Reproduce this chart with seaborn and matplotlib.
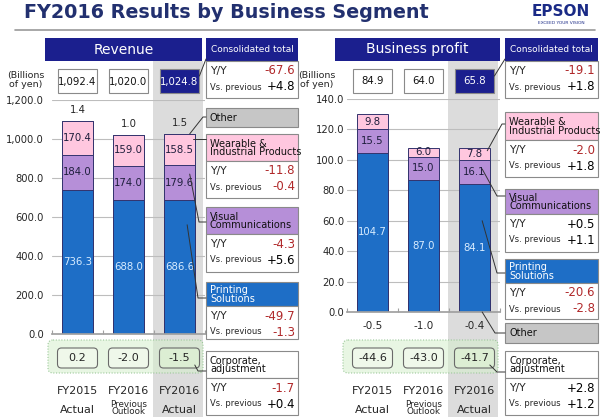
# FY2016 セグメント別業績（売上収益・事業利益）のインフォグラフィック再現

import matplotlib
matplotlib.use("Agg")
import matplotlib.pyplot as plt
from matplotlib import transforms
from matplotlib.patches import Rectangle, FancyBboxPatch
from matplotlib.lines import Line2D
import numpy as np
import seaborn as sns


# ======================== データ ========================
periods = ["FY2015 Actual", "FY2016 Previous Outlook", "FY2016 Actual"]
period_top = ["FY2015", "FY2016", "FY2016"]
period_bottom = ["Actual", "Previous\nOutlook", "Actual"]

rev_printing = [736.3, 688.0, 686.6]
rev_visual = [184.0, 174.0, 179.6]
rev_wearable = [170.4, 159.0, 158.5]
rev_other = [1.4, 1.0, 1.5]
rev_corporate = [0.2, -2.0, -1.5]
rev_total = [1092.4, 1020.0, 1024.8]
rev_yticks = [0, 200, 400, 600, 800, 1000, 1200]

prof_printing = [104.7, 87.0, 84.1]
prof_visual = [15.5, 15.0, 16.1]
prof_wearable = [9.8, 6.0, 7.8]
prof_other = [-0.5, -1.0, -0.4]
prof_corporate = [-44.6, -43.0, -41.7]
prof_total = [84.9, 64.0, 65.8]
prof_yticks = [0, 20, 40, 60, 80, 100, 120, 140]

# (Y/Y, Vs. previous)
rev_chg_total = (-67.6, 4.8)
rev_chg_wearable = (-11.8, -0.4)
rev_chg_visual = (-4.3, 5.6)
rev_chg_printing = (-49.7, -1.3)
rev_chg_corporate = (-1.7, 0.4)

prof_chg_total = (-19.1, 1.8)
prof_chg_wearable = (-2.0, 1.8)
prof_chg_visual = (0.5, 1.1)
prof_chg_printing = (-20.6, -2.8)
prof_chg_corporate = (2.8, 1.2)


# ======================== 描画設定 ========================
W, H = 600, 417
NAVY = "#1B1F8E"
TITLE = "#22306F"
BLUE = "#1E6EC6"
PURPLE = "#B68FD8"
PINK = "#FFC7DF"
GRAYBOX = "#C6C6C6"
SHADE = "#DCDCDC"
RED = "#B0282A"
EDGE = "#33336E"
BORDER = "#8A8A8A"
BAR_W = 0.59

sns.set_theme(style="white")
plt.rcParams["font.family"] = ["DejaVu Sans"]

fig = plt.figure(figsize=(6, 4.17), dpi=100)
TL = transforms.Affine2D().scale(1, -1).translate(0, H)  # 左上原点のピクセル座標


def rect(x0, y0, x1, y1, fc, ec="none", lw=0.8, z=1):
    fig.patches.append(
        Rectangle((x0, y0), x1 - x0, y1 - y0, transform=TL, fc=fc, ec=ec, lw=lw, zorder=z)
    )


def txt(x, y, s, **kw):
    kw.setdefault("va", "center")
    kw.setdefault("zorder", 5)
    fig.text(x, y, s, transform=TL, **kw)


def fmt(v):
    return f"{v:+.1f}"


def px(ax, x, y=0):
    d = ax.transData.transform((x, y))
    return d[0], H - d[1]


def connector(points):
    xs, ys = zip(*points)
    fig.lines.append(Line2D(xs, ys, transform=TL, color="#333333", lw=0.7, zorder=6))


# ======================== レイアウト ========================
txt(24, 12, "FY2016 Results by Business Segment", fontsize=13.8, fontweight="bold", color=TITLE)
txt(561, 11, "EPSON", fontsize=11, fontweight="bold", color="#1A2A86", ha="center")
txt(561, 23, "EXCEED YOUR VISION", fontsize=3.2, color="#1A2A86", ha="center")
fig.lines.append(Line2D([15, 595], [29.5, 29.5], transform=TL, color="#9A9A9A", lw=1.2))


def change_box(x0, x1, y0, y1, chg):
    rect(x0, y0, x1, y1, "white", BORDER, z=2)
    yy, vp = chg
    txt(x0 + 4, y0 + 10, "Y/Y", fontsize=7.8)
    txt(x1 - 3, y0 + 10, fmt(yy), fontsize=8.5, ha="right", color=RED if yy < 0 else "black")
    txt(x0 + 4, y0 + 26, "Vs. previous", fontsize=6)
    txt(x1 - 3, y0 + 26, fmt(vp), fontsize=8.5, ha="right", color=RED if vp < 0 else "black")


def header_box(x0, x1, y0, y1, label, fc, tc="#111111"):
    rect(x0, y0, x1, y1, fc, BORDER, z=2)
    txt(x0 + 4, (y0 + y1) / 2 + 0.5, label, fontsize=7, color=tc, linespacing=0.85)


def setup_axis(ax, ymax, yticks, label_fmt, pad):
    ax.set_facecolor("none")
    ax.set_xlim(-0.5, 2.5)
    ax.set_ylim(0, ymax)
    ax.set_yticks(yticks)
    ax.set_yticklabels([label_fmt(t) for t in yticks], fontsize=7.2)
    ax.tick_params(axis="y", length=0, pad=pad)
    ax.set_xticks([-0.5, 0.5, 1.5, 2.5], minor=True)
    ax.tick_params(axis="x", which="major", length=0, labelbottom=False)
    ax.tick_params(axis="x", which="minor", bottom=True, length=3, width=0.8,
                   color="#A0A0A0", direction="in")
    ax.set_xlabel("")
    ax.set_ylabel("")
    ax.yaxis.grid(True, color="#BDBDBD", lw=0.8)
    ax.set_axisbelow(True)
    for s in ["top", "right", "left"]:
        ax.spines[s].set_visible(False)
    ax.spines["bottom"].set_color("#A0A0A0")


def draw_stack(ax, segments, colors):
    cum = np.cumsum(np.array(segments), axis=0)
    for heights, color in list(zip(cum, colors))[::-1]:
        sns.barplot(
            x=periods, y=heights, color=color, width=BAR_W, saturation=1,
            edgecolor=EDGE, linewidth=0.7, errorbar=None, ax=ax,
        )
    return cum


def panel(ax, x_left, x_right, title, totals, corp, cum, seg_vals, unit_x):
    bt = transforms.blended_transform_factory(ax.transData, TL)
    # 当期実績の網掛け列
    sx0, _ = px(ax, 1.5)
    sx1, _ = px(ax, 2.5)
    rect(sx0 - 1, 61, sx1 - 2, H, SHADE, z=-1)
    rect(x_left, 38, x_right, 61, NAVY, z=2)
    txt((x_left + x_right) / 2, 49.5, title, fontsize=10, color="white", ha="center")
    txt(unit_x, 80, "(Billions\nof yen)", fontsize=6.8, ha="center", linespacing=0.9)

    for i, v in enumerate(totals):
        fc, tc = (NAVY, "white") if i == 2 else ("white", "#111111")
        ax.add_patch(Rectangle((i - 0.39, 69), 0.78, 24, transform=bt, fc=fc, ec=BORDER,
                               lw=0.8, clip_on=False, zorder=4))
        ax.text(i, 81.5, f"{v:,.1f}", transform=bt, ha="center", va="center",
                fontsize=7.3, color=tc, zorder=5)

    # セグメントのラベル
    bottoms = np.vstack([np.zeros(3), cum[:-1]])
    for k, vals in enumerate(seg_vals):
        tc = "#D8ECFF" if k == 0 else "#1E1E3C"
        for i, v in enumerate(vals):
            ax.text(i, bottoms[k][i] + v / 2, f"{v:.1f}", ha="center", va="center",
                    fontsize=7.3, color=tc, zorder=5)

    # 全社・調整の枠
    gx0, _ = px(ax, -0.5)
    gx1, _ = px(ax, 2.5)
    fig.patches.append(FancyBboxPatch(
        (gx0 - 4, 340), gx1 - gx0 + 2, 33, boxstyle="round,pad=0,rounding_size=5",
        transform=TL, fc=(0.84, 0.94, 0.80, 0.55), ec="#9CC89A", ls=(0, (1, 1.5)),
        lw=0.8, zorder=2))
    for i, v in enumerate(corp):
        cx, _ = px(ax, i)
        fig.patches.append(FancyBboxPatch(
            (cx - 20, 348), 40, 20, boxstyle="round,pad=0,rounding_size=4", transform=TL,
            fc="#EFF8EA" if i < 2 else "#DCEED3", ec="#6A6A6A", lw=0.8, zorder=3))
        txt(cx, 358, f"{v:.1f}", fontsize=8, ha="center")

    for i in range(3):
        cx, _ = px(ax, i)
        txt(cx, 391, period_top[i], fontsize=8, ha="center")
        if i == 1:
            txt(cx, 408, period_bottom[i], fontsize=6.3, ha="center", linespacing=0.85)
        else:
            txt(cx, 410, period_bottom[i], fontsize=8, ha="center")


# ---------- 売上収益 ----------
ax_rev = fig.add_axes([52 / W, 1 - 334 / H, 153 / W, 234 / H])
rev_segments = [rev_printing, rev_visual, rev_wearable, rev_other]
rev_cum = draw_stack(ax_rev, rev_segments, [BLUE, PURPLE, PINK, NAVY])
setup_axis(ax_rev, 1200, rev_yticks, lambda t: f"{t:,.1f}", 6)
panel(ax_rev, 45, 202, "Revenue", rev_total, rev_corporate, rev_cum, rev_segments[:3], 26)
for i, v in enumerate(rev_other):
    ax_rev.annotate(f"{v:.1f}", (i, rev_cum[-1][i]), xytext=(0, 4), textcoords="offset points",
                    ha="center", va="bottom", fontsize=7.3)

# ---------- 事業利益 ----------
ax_prof = fig.add_axes([347 / W, 1 - 312 / H, 153 / W, 213 / H])
prof_segments = [prof_printing, prof_visual, prof_wearable]
prof_cum = draw_stack(ax_prof, prof_segments, [BLUE, PURPLE, PINK])
setup_axis(ax_prof, 140, prof_yticks, lambda t: f"{t:.1f}", 2)
panel(ax_prof, 335, 500, "Business profit", prof_total, prof_corporate, prof_cum,
      prof_segments, 317)
bt_prof = transforms.blended_transform_factory(ax_prof.transData, TL)
for i, v in enumerate(prof_other):
    ax_prof.text(i, 326, f"{v:.1f}", transform=bt_prof, ha="center", va="center", fontsize=7.5)

# ---------- 右側の増減パネル（売上収益） ----------
rx0, rx1 = 206, 298
rect(rx0, 38, rx1, 61, NAVY, z=2)
txt((rx0 + rx1) / 2, 49.5, "Consolidated total", fontsize=6.5, color="white", ha="center")
change_box(rx0, rx1, 61, 98, rev_chg_total)
header_box(rx0, rx1, 108, 127, "Other", GRAYBOX)
header_box(rx0, rx1, 134, 161, "Wearable &\nIndustrial Products", PINK)
change_box(rx0, rx1, 161, 198, rev_chg_wearable)
header_box(rx0, rx1, 207, 234, "Visual\nCommunications", PURPLE)
change_box(rx0, rx1, 234, 272, rev_chg_visual)
header_box(rx0, rx1, 282, 306, "Printing\nSolutions", BLUE, "white")
change_box(rx0, rx1, 306, 339, rev_chg_printing)
header_box(rx0, rx1, 351, 378, "Corporate,\nadjustment", "white")
change_box(rx0, rx1, 378, 415, rev_chg_corporate)

# ---------- 右側の増減パネル（事業利益） ----------
qx0, qx1 = 505, 598
rect(qx0, 38, qx1, 61, NAVY, z=2)
txt((qx0 + qx1) / 2, 49.5, "Consolidated total", fontsize=6.5, color="white", ha="center")
change_box(qx0, qx1, 61, 98, prof_chg_total)
header_box(qx0, qx1, 112, 140, "Wearable &\nIndustrial Products", PINK)
change_box(qx0, qx1, 140, 177, prof_chg_wearable)
header_box(qx0, qx1, 189, 214, "Visual\nCommunications", PURPLE)
change_box(qx0, qx1, 214, 252, prof_chg_visual)
header_box(qx0, qx1, 259, 283, "Printing\nSolutions", BLUE, "white")
change_box(qx0, qx1, 283, 319, prof_chg_printing)
header_box(qx0, qx1, 323, 343, "Other", GRAYBOX)
header_box(qx0, qx1, 351, 378, "Corporate,\nadjustment", "white")
change_box(qx0, qx1, 378, 415, prof_chg_corporate)

# ---------- 引き出し線 ----------
x_box, _ = px(ax_rev, 2.39)
connector([(x_box, 76), (rx0, 59)])
connector([px(ax_rev, 2.2, rev_cum[-1][2]), (203, 117), (rx0, 117)])
connector([px(ax_rev, 2.27, 1000), (201, 139), (rx0, 139)])
connector([px(ax_rev, 2.2, 820), (199, 222), (rx0, 222)])
connector([px(ax_rev, 2.15, 560), (198, 298), (rx0, 298)])
cx, _ = px(ax_rev, 2.3)
connector([(cx, 365), (198, 371), (rx0, 371)])

x_box, _ = px(ax_prof, 2.39)
connector([(x_box, 76), (qx0, 59)])
connector([px(ax_prof, 2.25, 106), (502, 124), (qx0, 124)])
connector([px(ax_prof, 2.15, 94), (497, 196), (qx0, 196)])
connector([px(ax_prof, 2.15, 60), (497, 273), (qx0, 273)])
connector([px(ax_prof, 2.15, 0), (495, 333), (qx0, 333)])
cx, _ = px(ax_prof, 2.3)
connector([(cx, 365), (497, 372), (qx0, 372)])

fig.savefig("out.png", dpi=100)
